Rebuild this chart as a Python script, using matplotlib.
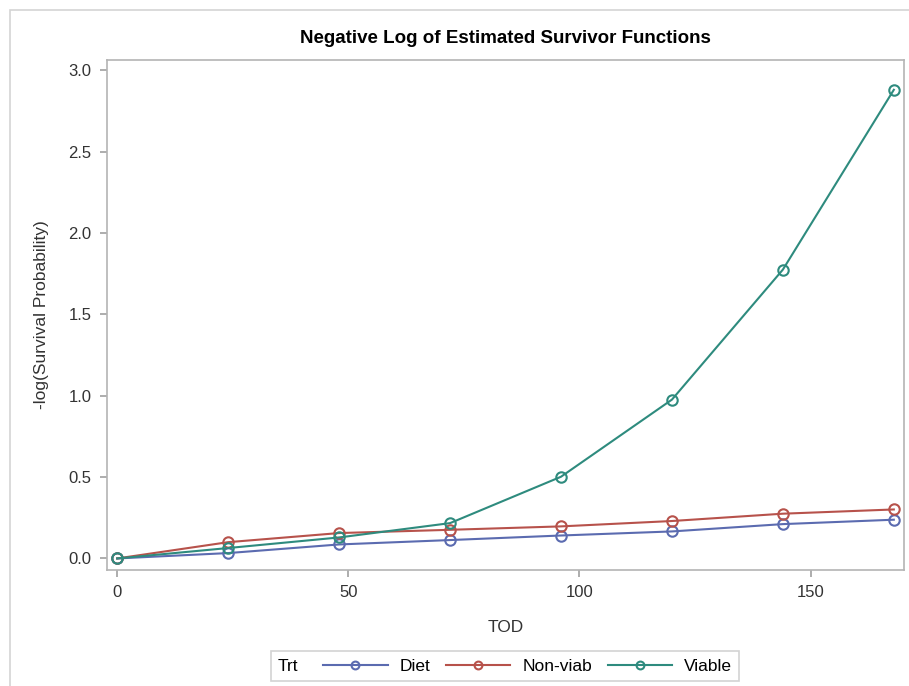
import matplotlib.pyplot as plt
from matplotlib.lines import Line2D
from matplotlib.patches import Rectangle
from matplotlib.offsetbox import HPacker

plt.rcParams['font.family'] = ['Liberation Sans', 'DejaVu Sans']

# data
tod = [0, 24, 48, 72, 96, 120, 144, 168]
diet = [0.0, 0.033, 0.086, 0.113, 0.141, 0.166, 0.211, 0.238]
nonviab = [0.0, 0.100, 0.156, 0.176, 0.197, 0.230, 0.275, 0.301]
viable = [0.0, 0.064, 0.129, 0.217, 0.502, 0.976, 1.775, 2.880]
groups = ['Diet', 'Non-viab', 'Viable']
colors = ['#5b6bb0', '#b7524b', '#2e8b7e']

fig = plt.figure(figsize=(9.09, 6.86), dpi=100)
ax = fig.add_axes([107 / 909, 1 - 570 / 686, 797 / 909, 510 / 686])

# outer frame of the SAS output
fig.patches.append(Rectangle((10 / 909, -0.1), 1.2, (676 / 686) + 0.1,
                             transform=fig.transFigure, fill=False,
                             edgecolor='#d4d4d4', lw=1.2))

handles = []
for vals, name, c in zip([diet, nonviab, viable], groups, colors):
    ln, = ax.plot(tod, vals, color=c, lw=1.5, marker='o', ms=7.5,
                  mfc='none', mec=c, mew=1.5, label=name)
    handles.append(ln)

ax.set_xlim(-2.2, 170.2)
ax.set_ylim(-0.071, 3.063)
ax.set_xticks([0, 50, 100, 150])
ax.set_yticks([0, 0.5, 1.0, 1.5, 2.0, 2.5, 3.0])
ax.set_yticklabels(['0.0', '0.5', '1.0', '1.5', '2.0', '2.5', '3.0'])

for s in ax.spines.values():
    s.set_color('#b4b4b4')
    s.set_linewidth(1.2)
ax.tick_params(colors='#a0a0a0', labelcolor='#333333', labelsize=12,
               length=5, width=1.2, pad=6)

ax.set_xlabel('TOD', fontsize=12.5, color='#333333', labelpad=14)
ax.set_ylabel('-log(Survival Probability)', fontsize=12.5, color='#333333',
              labelpad=14)
ax.set_title('Negative Log of Estimated Survivor Functions', fontsize=13.5,
             fontweight='bold', pad=12)

leg = fig.legend(handles=handles, title='Trt', loc='center',
                 bbox_to_anchor=(505 / 909, 1 - 666 / 686),
                 ncol=3, fontsize=12.5, title_fontsize=12.5, frameon=True,
                 fancybox=False, handlelength=3.7, handletextpad=0.7,
                 columnspacing=0.9, borderpad=0.25, markerscale=0.75)
leg.get_frame().set_edgecolor('#c8c8c8')
leg.get_frame().set_linewidth(1.2)
# put the "Trt" title on the left of the entries, SAS style
box = HPacker(pad=5, sep=18, align='bottom',
              children=[leg._legend_title_box, leg._legend_handle_box])
box.set_figure(fig)
leg._legend_box = box
leg._set_loc(leg._loc)

fig.savefig('out.png', dpi=100)
